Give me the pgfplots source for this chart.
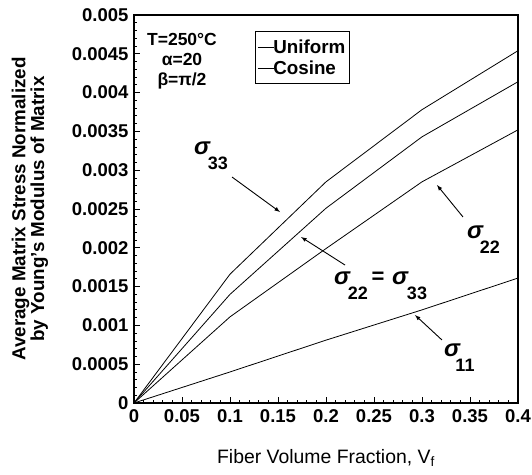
\documentclass[border=0pt]{standalone}
\usepackage{pgfplots}
\pgfplotsset{compat=1.18}
\usepackage{fontspec}
\setmainfont{Liberation Sans}
\begin{document}
\begin{tikzpicture}[font=\fontsize{18}{20}\selectfont\bfseries]
\begin{axis}[name=ax,
  scale only axis, width=384pt, height=388pt,
  xmin=0, xmax=0.4, ymin=0, ymax=0.005,
  xtick={0,0.05,0.1,0.15,0.2,0.25,0.3,0.35,0.4},
  xticklabels={0,0.05,0.1,0.15,0.2,0.25,0.3,0.35,0.4},
  ytick={0,0.0005,0.001,0.0015,0.002,0.0025,0.003,0.0035,0.004,0.0045,0.005},
  yticklabels={0,0.0005,0.001,0.0015,0.002,0.0025,0.003,0.0035,0.004,0.0045,0.005},
  scaled ticks=false,
  minor x tick num=4, minor y tick num=4,
  tick align=inside, xtick pos=bottom, ytick pos=left,
  major tick length=6pt, minor tick length=3pt,
  axis line style={line width=1.4pt},
  every tick/.style={black, line width=0.8pt},
  tick label style={font=\fontsize{18.5}{20}\selectfont\bfseries},
  xticklabel style={yshift=-3pt},
  yticklabel style={xshift=-2pt},
  xlabel={Fiber Volume Fraction, V$_{\mathrm{f}}$},
  xlabel style={at={(axis description cs:0.5,-0.142)}, anchor=center, font=\fontsize{19.4}{21}\selectfont\mdseries},
  ylabel={Average Matrix Stress Normalized\\by Young's Modulus of Matrix},
  ylabel style={at={(axis description cs:-0.271,0.5)}, anchor=center, align=center, font=\fontsize{18.8}{17}\selectfont\bfseries},
  legend style={at={(axis cs:0.126,0.004794)}, anchor=north west, draw=black, line width=1pt, inner xsep=2pt, inner ysep=6pt, row sep=2pt, font=\fontsize{18.8}{21}\selectfont\bfseries},
  legend cell align=left,
  legend image code/.code={\draw[#1] (0pt,0pt) -- (16pt,0pt);},
  cycle list={{black, no markers, line width=0.8pt}},
]
\addlegendimage{black, no markers, line width=0.8pt}
\addlegendentry{\hspace{-3pt}Uniform\hspace{5pt}}
\addlegendimage{black, no markers, line width=0.8pt}
\addlegendentry{\hspace{-3pt}Cosine}

\addplot[black, no markers, line width=0.8pt] coordinates {(0,0) (0.1,0.00166) (0.2,0.00285) (0.3,0.00378) (0.4,0.00454)};
\addplot[black, no markers, line width=0.8pt] coordinates {(0,0) (0.1,0.00140) (0.2,0.00251) (0.3,0.00343) (0.4,0.00414)};
\addplot[black, no markers, line width=0.8pt] coordinates {(0,0) (0.1,0.00111) (0.2,0.00199) (0.3,0.00285) (0.4,0.00352)};
\addplot[black, no markers, line width=0.8pt] coordinates {(0,0) (0.1,0.00040) (0.2,0.00081) (0.3,0.00120) (0.4,0.00161)};

\node[align=center, font=\fontsize{17.5}{20}\selectfont\bfseries] at (axis cs:0.050,0.004407) {T=250°C\\α=20\\β=π/2};

\node[font=\fontsize{24}{24}\selectfont\bfseries\itshape] at (axis cs:0.0708,0.003286) {σ};
\node at (axis cs:0.0875,0.003093) {33};
\draw[-latex, line width=0.9pt] (axis cs:0.1021,0.002912) -- (axis cs:0.1521,0.002461);

\node[font=\fontsize{24}{24}\selectfont\bfseries\itshape] at (axis cs:0.2167,0.001611) {σ};
\node at (axis cs:0.2333,0.001418) {22};
\node[font=\fontsize{22}{22}\selectfont\bfseries] at (axis cs:0.2542,0.001611) {=};
\node[font=\fontsize{24}{24}\selectfont\bfseries\itshape] at (axis cs:0.2771,0.001611) {σ};
\node at (axis cs:0.2948,0.001418) {33};
\draw[-latex, line width=0.9pt] (axis cs:0.2198,0.001778) -- (axis cs:0.1740,0.002139);

\node[font=\fontsize{24}{24}\selectfont\bfseries\itshape] at (axis cs:0.3552,0.002204) {σ};
\node at (axis cs:0.3708,0.002010) {22};
\draw[-latex, line width=0.9pt] (axis cs:0.3427,0.002397) -- (axis cs:0.3156,0.002809);

\node[font=\fontsize{24}{24}\selectfont\bfseries\itshape] at (axis cs:0.3313,0.000683) {σ};
\node at (axis cs:0.3448,0.000490) {11};
\draw[-latex, line width=0.9pt] (axis cs:0.3208,0.000812) -- (axis cs:0.2927,0.001134);
\end{axis}
\pgfresetboundingbox
\useasboundingbox ([shift={(-134pt,-72pt)}]ax.south west) rectangle ([shift={(14pt,15pt)}]ax.north east);
\end{tikzpicture}
\end{document}
